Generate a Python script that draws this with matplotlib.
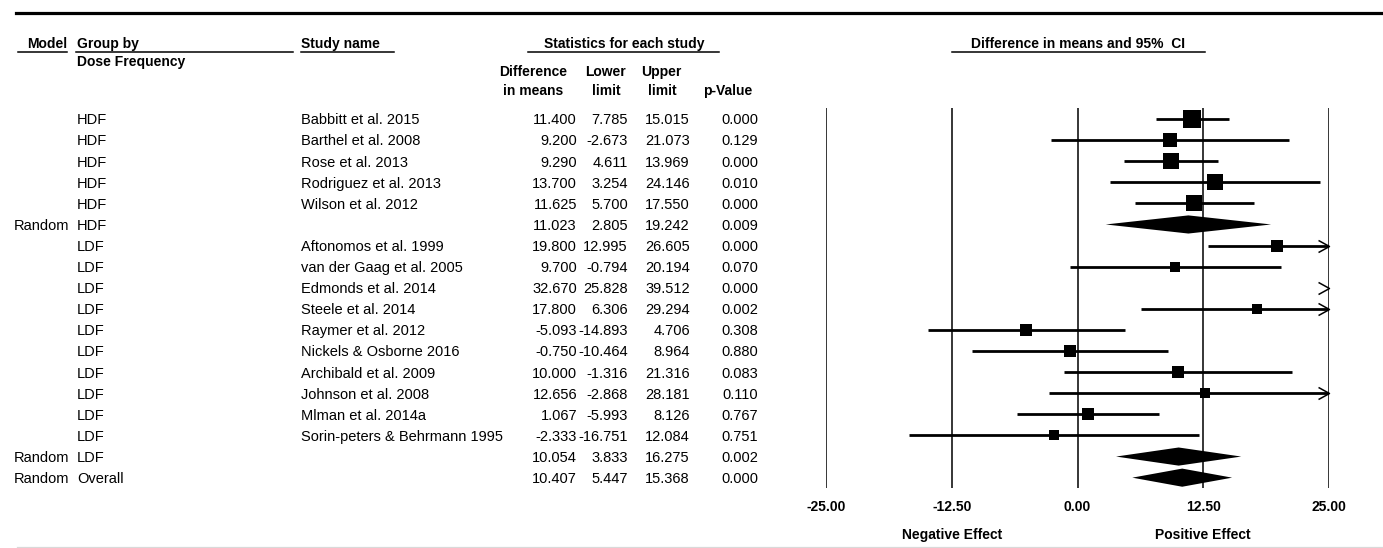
import matplotlib.pyplot as plt
from matplotlib.lines import Line2D
from matplotlib.path import Path
from matplotlib.transforms import blended_transform_factory, ScaledTranslation

plt.rcParams['font.family'] = ['Liberation Sans', 'DejaVu Sans']

# ---------------------------------------------------------------- data
model = [''] * 5 + ['Random'] + [''] * 10 + ['Random', 'Random']
group = ['HDF'] * 6 + ['LDF'] * 11 + ['Overall']
study = ['Babbitt et al. 2015', 'Barthel et al. 2008', 'Rose et al. 2013',
         'Rodriguez et al. 2013', 'Wilson et al. 2012', '',
         'Aftonomos et al. 1999', 'van der Gaag et al. 2005',
         'Edmonds et al. 2014', 'Steele et al. 2014', 'Raymer et al. 2012',
         'Nickels & Osborne 2016', 'Archibald et al. 2009',
         'Johnson et al. 2008', 'Mlman et al. 2014a',
         'Sorin-peters & Behrmann 1995', '', '']
diff = [11.400, 9.200, 9.290, 13.700, 11.625, 11.023, 19.800, 9.700, 32.670,
        17.800, -5.093, -0.750, 10.000, 12.656, 1.067, -2.333, 10.054, 10.407]
lower = [7.785, -2.673, 4.611, 3.254, 5.700, 2.805, 12.995, -0.794, 25.828,
         6.306, -14.893, -10.464, -1.316, -2.868, -5.993, -16.751, 3.833, 5.447]
upper = [15.015, 21.073, 13.969, 24.146, 17.550, 19.242, 26.605, 20.194,
         39.512, 29.294, 4.706, 8.964, 21.316, 28.181, 8.126, 12.084, 16.275,
         15.368]
pval = [0.000, 0.129, 0.000, 0.010, 0.000, 0.009, 0.000, 0.070, 0.000, 0.002,
        0.308, 0.880, 0.083, 0.110, 0.767, 0.751, 0.002, 0.000]
# relative study weights (None = pooled estimate, drawn as a diamond)
weight = [10.0, 6.8, 8.8, 7.8, 8.3, None, 5.0, 3.8, 3.8, 3.8, 4.2, 4.2, 4.2,
          2.8, 4.2, 2.8, None, None]

xticks = [-25.0, -12.5, 0.0, 12.5, 25.0]
xlim = (-25.0, 25.0)

# ---------------------------------------------------------------- layout
W, H = 1383, 548
fig = plt.figure(figsize=(W / 100, H / 100), dpi=100)


def fx(px):
    return px / W


def fy(py):
    return 1 - py / H


def hline_px(x0, x1, y, lw=1.1, color='black'):
    fig.add_artist(Line2D([fx(x0), fx(x1)], [fy(y), fy(y)], lw=lw,
                          color=color, transform=fig.transFigure))


ax = fig.add_axes([fx(826), fy(488), fx(1329) - fx(826), fy(108) - fy(488)])
ax.set_xlim(*xlim)
ax.set_ylim(17.49, -0.52)
ax.axis('off')

rows = list(range(len(diff)))
# nudge text down a touch so digits/caps sit centred on the row
nudge = ScaledTranslation(0, -1.4 / 100, fig.dpi_scale_trans)
fig_tf = fig.transFigure + nudge
row_tf = blended_transform_factory(fig.transFigure, ax.transData) + nudge
tick_tf = blended_transform_factory(ax.transData, fig.transFigure) + nudge

FS = 10.5
HFS = 10

# top rule and bottom rule
hline_px(16, W, 12.5, lw=2.3)
hline_px(17, W, 547, lw=0.9, color='#d9d9d9')

# column headings
bold = dict(fontsize=HFS, fontweight='bold', va='center', transform=fig_tf)
fig.text(fx(27), fy(43), 'Model', ha='left', **bold)
fig.text(fx(77), fy(43), 'Group by', ha='left', **bold)
fig.text(fx(77), fy(61), 'Dose Frequency', ha='left', **bold)
fig.text(fx(301), fy(43), 'Study name', ha='left', **bold)
fig.text(fx(624), fy(43), 'Statistics for each study', ha='center', **bold)
fig.text(fx(1078), fy(43), 'Difference in means and 95%  CI', ha='center', **bold)
for x0, x1 in [(18, 67), (76, 293), (301, 394), (528, 719), (952, 1205)]:
    hline_px(x0, x1, 51.5)

fig.text(fx(533), fy(71), 'Difference', ha='center', **bold)
fig.text(fx(533), fy(90), 'in means', ha='center', **bold)
fig.text(fx(605), fy(71), 'Lower', ha='center', **bold)
fig.text(fx(606), fy(90), 'limit', ha='center', **bold)
fig.text(fx(661), fy(71), 'Upper', ha='center', **bold)
fig.text(fx(662), fy(90), 'limit', ha='center', **bold)
fig.text(fx(728), fy(90), 'p-Value', ha='center', **bold)

# table rows
for i in rows:
    kw = dict(fontsize=FS, va='center', transform=row_tf)
    fig.text(fx(14), i, model[i], ha='left', **kw)
    fig.text(fx(77), i, group[i], ha='left', **kw)
    fig.text(fx(301), i, study[i], ha='left', **kw)
    fig.text(fx(577), i, f'{diff[i]:.3f}', ha='right', **kw)
    fig.text(fx(628), i, f'{lower[i]:.3f}', ha='right', **kw)
    fig.text(fx(690), i, f'{upper[i]:.3f}', ha='right', **kw)
    fig.text(fx(758), i, f'{pval[i]:.3f}', ha='right', **kw)

# reference lines
for t in xticks:
    ax.axvline(t, color='black', lw=1.1, zorder=1)
    fig.text(t, fy(506), f'{t:.2f}', transform=tick_tf, ha='center',
             va='center', fontsize=HFS, fontweight='bold')
fig.text(-12.5, fy(534), 'Negative Effect', transform=tick_tf, ha='center',
         va='center', fontsize=HFS, fontweight='bold')
fig.text(12.5, fy(534), 'Positive Effect', transform=tick_tf, ha='center',
         va='center', fontsize=HFS, fontweight='bold')

chevron = Path([(-1, 0.55), (0, 0), (-1, -0.55)],
               [Path.MOVETO, Path.LINETO, Path.LINETO])
half_h = 0.43  # diamond half height in rows

for i in rows:
    lo, est, hi = lower[i], diff[i], upper[i]
    if weight[i] is None:
        ax.fill([lo, est, hi, est], [i, i - half_h, i, i + half_h],
                color='black', lw=0, zorder=3)
        continue
    a, b = max(lo, xlim[0]), min(hi, xlim[1])
    if a < b:
        ax.hlines(i, a, b, color='black', lw=2.0, zorder=2)
    if hi > xlim[1]:
        ax.plot(xlim[1], i, marker=chevron, ms=15.8, mfc='none', mec='black',
                mew=1.1, clip_on=False, zorder=4)
    if xlim[0] <= est <= xlim[1]:
        side_pt = (weight[i] * 29) ** 0.5 * 0.72
        ax.scatter(est, i, marker='s', s=side_pt ** 2, color='black',
                   linewidths=0, zorder=5)

fig.savefig('out.png', dpi=100)
